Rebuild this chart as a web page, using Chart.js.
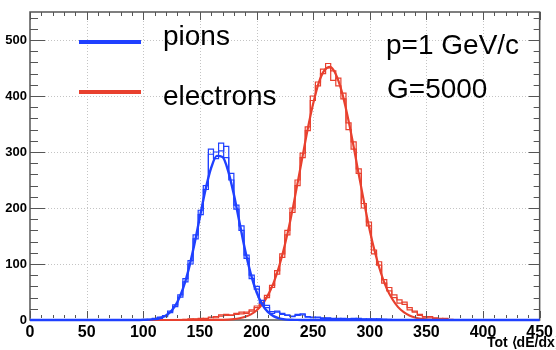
<!DOCTYPE html>
<html>
<head>
<meta charset="utf-8">
<script src="https://cdn.jsdelivr.net/npm/chart.js@4.4.1/dist/chart.umd.min.js"></script>
<style>
    body { margin: 0; background: #fff; }
</style>
</head>
<body>
<canvas id="chart" width="556" height="350"></canvas>
<script>
// histogram binning (Tot units)
const binWidth = 4.5;
const pionBinStart = 94.5;
const electronBinStart = 135;

// two overlaid pion histograms
const pionCountsA = [0, 0, 1, 2, 3, 8, 13, 27, 41, 74, 100, 152, 188, 240, 305, 288, 316, 290, 250, 205,
    160, 110, 80, 55, 35, 22, 15, 14, 12, 8, 6, 10, 9, 6, 4, 5, 3, 4, 3, 2, 3, 2, 2, 3, 1, 2, 1, 2, 1, 1, 0];
const pionCountsB = [0, 1, 0, 3, 5, 6, 16, 24, 45, 68, 106, 145, 196, 233, 296, 300, 302, 310, 262, 198,
    168, 116, 74, 60, 30, 26, 12, 16, 10, 9, 7, 8, 11, 5, 5, 4, 4, 3, 2, 3, 2, 2, 3, 1, 2, 1, 2, 1, 1, 0, 0];

// two overlaid electron histograms
const electronCountsA = [1, 1, 2, 2, 3, 4, 6, 9, 8, 9, 12, 11, 14, 18, 22, 30, 44, 58, 88, 112,
    160, 192, 250, 290, 345, 392, 425, 448, 458, 428, 432, 395, 340, 318, 262, 208, 168, 125, 98, 72,
    58, 45, 36, 28, 22, 14, 8, 6, 5, 4, 3, 2, 1, 0];
const electronCountsB = [0, 2, 1, 3, 2, 5, 4, 7, 10, 8, 10, 14, 12, 16, 25, 28, 40, 62, 82, 118,
    152, 200, 240, 298, 338, 400, 418, 440, 450, 445, 418, 405, 352, 305, 270, 200, 175, 118, 104, 66,
    52, 40, 30, 32, 18, 16, 10, 5, 6, 3, 2, 3, 0, 0];

// gaussian fits
const pionFitX = [0, 90, 95, 100, 105, 110, 115, 120, 125, 130, 135, 140, 145, 150, 155, 160, 165, 170,
    175, 180, 185, 190, 195, 200, 205, 210, 215, 220, 225, 230, 235, 240, 450];
const pionFitY = [0, 0, 0.1, 0.2, 0.6, 1.5, 3.6, 8, 16.5, 31.6, 55.4, 89.7, 133.9, 184, 233, 272, 293, 291,
    266, 224, 174, 124, 82, 50, 28, 14.4, 6.9, 3, 1.2, 0.5, 0.2, 0, 0];

const electronFitX = [95, 160, 165, 170, 175, 180, 185, 190, 195, 200, 205, 210, 215, 220, 225, 230, 235, 240,
    245, 250, 255, 260, 265, 270, 275, 280, 285, 290, 295, 300, 305, 310, 315, 320, 325, 330, 335,
    340, 345, 350, 355, 360, 365, 370, 380];
const electronFitY = [0, 0.1, 0.2, 0.4, 0.8, 1.6, 3.1, 5.7, 10, 17, 28, 44, 66, 96, 134, 179, 231, 285,
    339, 386, 424, 446, 452, 439, 410, 368, 318, 263, 210, 160, 118, 83, 56, 37, 23, 14, 8,
    4.5, 2.3, 1.2, 0.6, 0.3, 0.1, 0, 0];

const xTicks = [0, 50, 100, 150, 200, 250, 300, 350, 400, 450];
const yTicks = [0, 100, 200, 300, 400, 500];

const blue = '#1f40ff';
const red = '#e8402e';

function histPoints(start, counts) {
    const pts = [{ x: start, y: 0 }];
    counts.forEach((c, i) => pts.push({ x: start + i * binWidth, y: c }));
    pts.push({ x: start + counts.length * binWidth, y: 0 });
    return pts;
}

function curvePoints(xs, ys) {
    return xs.map((x, i) => ({ x: x, y: ys[i] }));
}

// ROOT-like frame, inside ticks, dotted grid and the labels
const rootFrame = {
    id: 'rootFrame',
    beforeDatasetsDraw(chart) {
        const { ctx, chartArea: a, scales: { x, y } } = chart;
        ctx.save();
        ctx.strokeStyle = '#c4c4c4';
        ctx.lineWidth = 1;
        ctx.setLineDash([1, 2]);
        xTicks.slice(1, -1).forEach(v => {
            const px = Math.round(x.getPixelForValue(v)) + 0.5;
            ctx.beginPath(); ctx.moveTo(px, a.top); ctx.lineTo(px, a.bottom); ctx.stroke();
        });
        yTicks.slice(1).forEach(v => {
            const py = Math.round(y.getPixelForValue(v)) + 0.5;
            ctx.beginPath(); ctx.moveTo(a.left, py); ctx.lineTo(a.right, py); ctx.stroke();
        });
        ctx.setLineDash([]);
        ctx.strokeStyle = '#555';
        ctx.lineWidth = 1.5;
        ctx.strokeRect(a.left, a.top, a.right - a.left, a.bottom - a.top);
        ctx.restore();
    },
    afterDatasetsDraw(chart) {
        const { ctx, chartArea: a, scales: { x, y } } = chart;
        ctx.save();
        ctx.strokeStyle = '#555';
        ctx.lineWidth = 1;
        ctx.beginPath();
        for (let v = 0; v <= 450; v += 10) {
            const px = Math.round(x.getPixelForValue(v)) + 0.5;
            const len = v % 50 === 0 ? 9 : 5;
            ctx.moveTo(px, a.bottom - 2); ctx.lineTo(px, a.bottom - len);
            ctx.moveTo(px, a.top); ctx.lineTo(px, a.top + (v % 50 === 0 ? 8 : 4));
        }
        for (let v = 20; v <= 550; v += 20) {
            const py = Math.round(y.getPixelForValue(v)) + 0.5;
            const major = v % 100 === 0;
            ctx.moveTo(a.left, py); ctx.lineTo(a.left + (major ? 15 : 8), py);
            ctx.moveTo(a.right, py); ctx.lineTo(a.right - (major ? 11 : 6), py);
        }
        ctx.stroke();

        // legend
        ctx.lineWidth = 4;
        ctx.strokeStyle = blue;
        ctx.beginPath(); ctx.moveTo(79, 42); ctx.lineTo(141, 42); ctx.stroke();
        ctx.strokeStyle = red;
        ctx.beginPath(); ctx.moveTo(79, 92); ctx.lineTo(141, 92); ctx.stroke();

        ctx.fillStyle = '#000';
        ctx.font = '28px "Liberation Sans", Arial, sans-serif';
        ctx.textAlign = 'left';
        ctx.textBaseline = 'alphabetic';
        ctx.fillText('pions', 163, 45);
        ctx.fillText('electrons', 163, 105);
        ctx.fillText('p=1 GeV/c', 386, 54);
        ctx.fillText('G=5000', 387, 98);

        ctx.font = 'bold 14px "Liberation Sans", Arial, sans-serif';
        ctx.fillText('Tot \u27E8dE/dx\u27E9', 487, 347);
        ctx.restore();
    }
};

const ctx = document.getElementById('chart').getContext('2d');
new Chart(ctx, {
    type: 'line',
    data: {
        datasets: [
            { data: curvePoints(pionFitX, pionFitY), borderColor: blue, borderWidth: 2.4,
              cubicInterpolationMode: 'monotone', pointRadius: 0, clip: 3 },
            { data: histPoints(pionBinStart, pionCountsA), borderColor: blue, borderWidth: 1.2,
              stepped: 'before', pointRadius: 0 },
            { data: histPoints(pionBinStart, pionCountsB), borderColor: blue, borderWidth: 1.2,
              stepped: 'before', pointRadius: 0 },
            { data: curvePoints(electronFitX, electronFitY), borderColor: red, borderWidth: 2.2,
              cubicInterpolationMode: 'monotone', pointRadius: 0, clip: 3 },
            { data: histPoints(electronBinStart, electronCountsA), borderColor: red, borderWidth: 1.2,
              stepped: 'before', pointRadius: 0 },
            { data: histPoints(electronBinStart, electronCountsB), borderColor: red, borderWidth: 1.2,
              stepped: 'before', pointRadius: 0 }
        ]
    },
    options: {
        responsive: false,
        animation: false,
        devicePixelRatio: 1,
        layout: { padding: { top: 12, right: 11, left: 0, bottom: 0 } },
        plugins: { legend: { display: false }, tooltip: { enabled: false } },
        scales: {
            x: {
                type: 'linear', min: 0, max: 450,
                grid: { display: false, drawTicks: false }, border: { display: false },
                afterFit: s => { s.height = 30; },
                ticks: { stepSize: 50, autoSkip: false, maxRotation: 0, padding: 3, color: '#000',
                    font: { family: '"Liberation Sans", Arial, sans-serif', size: 16, weight: 'bold' } }
            },
            y: {
                type: 'linear', min: 0, max: 550,
                grid: { display: false, drawTicks: false }, border: { display: false },
                afterFit: s => { s.width = 30; },
                afterBuildTicks: s => { s.ticks = s.ticks.filter(t => t.value % 100 === 0); },
                ticks: { stepSize: 100, padding: 3, color: '#000',
                    font: { family: '"Liberation Sans", Arial, sans-serif', size: 13, weight: 'bold' } }
            }
        }
    },
    plugins: [rootFrame]
});
</script>
</body>
</html>
